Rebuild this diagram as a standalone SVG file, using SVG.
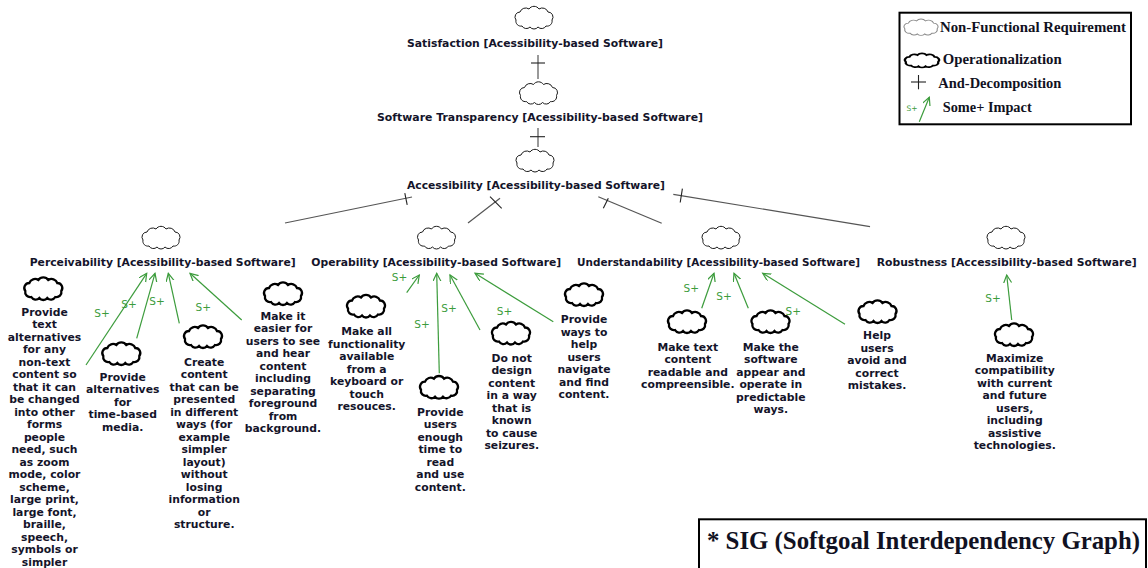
<svg xmlns="http://www.w3.org/2000/svg" xmlns:xlink="http://www.w3.org/1999/xlink" width="1148" height="568" viewBox="0 0 1148 568">
<style>
.bg{fill:#ffffff}
.lbl{font-family:"DejaVu Sans",Verdana,sans-serif;font-weight:bold;font-size:10.8px;fill:#14142a;text-anchor:middle}
.sp{font-family:"DejaVu Sans",Verdana,sans-serif;font-size:10.5px;fill:#3c9c3c;text-anchor:middle}
.nfr{fill:#ffffff;stroke:#1a1a1a;stroke-width:1}
.op{fill:#ffffff;stroke:#000000;stroke-width:2.3}
.and{stroke:#555555;stroke-width:1.2;fill:none}
.bar{stroke:#222222;stroke-width:1.1;fill:none}
.imp{stroke:#3c9c3c;stroke-width:1.2;fill:none;marker-end:url(#ah)}
.leg{font-family:"Liberation Serif","Times New Roman",serif;font-weight:bold;font-size:14px;fill:#111122}
.box{fill:none;stroke:#000000;stroke-width:2}
</style>
<defs>
<path id="cloud" d="M-12,9 a5,5 0 0 1 -6,-6 a5,5 0 0 1 4,-8 a6,6 0 0 1 9,-3 a6,6 0 0 1 10,0 a6,6 0 0 1 9,3 a5,5 0 0 1 4,8 a5,5 0 0 1 -6,6 a5,5 0 0 1 -8,1 a5,5 0 0 1 -8,0 a5,5 0 0 1 -8,-1 z"/>
<marker id="ah" markerUnits="userSpaceOnUse" markerWidth="12" markerHeight="12" refX="8" refY="4" orient="auto" viewBox="0 0 12 12">
<path d="M0,0 L8,4 L0,8" fill="none" stroke="#3c9c3c" stroke-width="1.2"/>
</marker>
</defs>
<rect class="bg" x="0" y="0" width="1148" height="568"/>

<g id="connectors">
<line class="and" x1="538" y1="55" x2="538" y2="79"/>
<line class="bar" x1="531" y1="63" x2="545" y2="63"/>
<line class="and" x1="538" y1="128" x2="538" y2="147"/>
<line class="bar" x1="530" y1="136.7" x2="545" y2="136.7"/>
<line class="and" x1="285" y1="223" x2="412" y2="197"/>
<line class="bar" x1="404.8" y1="193.1" x2="407.2" y2="204.9"/>
<line class="and" x1="468" y1="223" x2="500" y2="198.3"/>
<line class="bar" x1="490" y1="196.7" x2="501.7" y2="208.3"/>
<line class="and" x1="598.3" y1="196.7" x2="661.7" y2="223.3"/>
<line class="bar" x1="603.3" y1="208.3" x2="608.3" y2="198.3"/>
<line class="and" x1="673.3" y1="194.3" x2="870" y2="226.7"/>
<line class="bar" x1="682.4" y1="188.7" x2="680.2" y2="202.5"/>

<line class="imp" x1="86" y1="365" x2="146.7" y2="273.3"/>
<line class="imp" x1="136.7" y1="338.3" x2="155" y2="273.3"/>
<line class="imp" x1="179.3" y1="323.3" x2="168.3" y2="273.3"/>
<line class="imp" x1="241.7" y1="320" x2="190" y2="273.3"/>
<line class="imp" x1="406.7" y1="292.7" x2="419.3" y2="275"/>
<line class="imp" x1="439.3" y1="373.3" x2="436.7" y2="273.3"/>
<line class="imp" x1="480" y1="330" x2="450" y2="275"/>
<line class="imp" x1="553.3" y1="321.7" x2="475" y2="273.3"/>
<line class="imp" x1="701.7" y1="308.3" x2="714" y2="273.3"/>
<line class="imp" x1="748.3" y1="308.3" x2="734" y2="273.3"/>
<line class="imp" x1="845" y1="324.3" x2="762.7" y2="273.3"/>
<line class="imp" x1="1011.7" y1="320" x2="1006.7" y2="275"/>

<text class="sp" x="102" y="316.8">S+</text>
<text class="sp" x="129" y="308.3">S+</text>
<text class="sp" x="157" y="305.3">S+</text>
<text class="sp" x="203.3" y="311.1">S+</text>
<text class="sp" x="399.5" y="281.1">S+</text>
<text class="sp" x="422" y="327.8">S+</text>
<text class="sp" x="449" y="312.1">S+</text>
<text class="sp" x="504.5" y="314.6">S+</text>
<text class="sp" x="691.3" y="292.1">S+</text>
<text class="sp" x="724" y="299.8">S+</text>
<text class="sp" x="793.3" y="314.8">S+</text>
<text class="sp" x="993" y="301.6">S+</text>
</g>

<g id="satisfaction">
<use xlink:href="#cloud" class="nfr" transform="translate(534,17)"/>
<text class="lbl" x="535" y="47" textLength="256" lengthAdjust="spacingAndGlyphs">Satisfaction [Acessibility-based Software]</text>
</g>
<g id="transparency">
<use xlink:href="#cloud" class="nfr" transform="translate(538.5,92.5)"/>
<text class="lbl" x="540" y="120.5" textLength="326" lengthAdjust="spacingAndGlyphs">Software Transparency [Acessibility-based Software]</text>
</g>
<g id="accessibility">
<use xlink:href="#cloud" class="nfr" transform="translate(535,160)"/>
<text class="lbl" x="536" y="189" textLength="258" lengthAdjust="spacingAndGlyphs">Accessibility [Acessibility-based Software]</text>
</g>
<g id="perceivability">
<use xlink:href="#cloud" class="nfr" transform="translate(161,237)"/>
<text class="lbl" x="162.7" y="266" textLength="266" lengthAdjust="spacingAndGlyphs">Perceivability [Acessibility-based Software]</text>
</g>
<g id="operability">
<use xlink:href="#cloud" class="nfr" transform="translate(436.5,237)"/>
<text class="lbl" x="436.3" y="266" textLength="250" lengthAdjust="spacingAndGlyphs">Operability [Acessibility-based Software]</text>
</g>
<g id="understandability">
<use xlink:href="#cloud" class="nfr" transform="translate(721,237)"/>
<text class="lbl" x="718.5" y="266" textLength="283" lengthAdjust="spacingAndGlyphs">Understandability [Acessibility-based Software]</text>
</g>
<g id="robustness">
<use xlink:href="#cloud" class="nfr" transform="translate(1006,237)"/>
<text class="lbl" x="1006.7" y="266" textLength="260" lengthAdjust="spacingAndGlyphs">Robustness [Accessibility-based Software]</text>
</g>

<g id="op-text-alternatives">
<use xlink:href="#cloud" class="op" transform="translate(43.3,288)"/>
<text class="lbl" y="315.7"><tspan x="44.5">Provide</tspan><tspan x="44.5" dy="12.5">text</tspan><tspan x="44.5" dy="12.5">alternatives</tspan><tspan x="44.5" dy="12.5">for any</tspan><tspan x="44.5" dy="12.5">non-text</tspan><tspan x="44.5" dy="12.5">content so</tspan><tspan x="44.5" dy="12.5">that it can</tspan><tspan x="44.5" dy="12.5">be changed</tspan><tspan x="44.5" dy="12.5">into other</tspan><tspan x="44.5" dy="12.5">forms</tspan><tspan x="44.5" dy="12.5">people</tspan><tspan x="44.5" dy="12.5">need, such</tspan><tspan x="44.5" dy="12.5">as zoom</tspan><tspan x="44.5" dy="12.5">mode, color</tspan><tspan x="44.5" dy="12.5">scheme,</tspan><tspan x="44.5" dy="12.5">large print,</tspan><tspan x="44.5" dy="12.5">large font,</tspan><tspan x="44.5" dy="12.5">braille,</tspan><tspan x="44.5" dy="12.5">speech,</tspan><tspan x="44.5" dy="12.5">symbols or</tspan><tspan x="44.5" dy="12.5">simpler</tspan></text>
</g>
<g id="op-time-based">
<use xlink:href="#cloud" class="op" transform="translate(121.3,353)"/>
<text class="lbl" y="380.7"><tspan x="122.7">Provide</tspan><tspan x="122.7" dy="12.5">alternatives</tspan><tspan x="122.7" dy="12.5">for</tspan><tspan x="122.7" dy="12.5">time-based</tspan><tspan x="122.7" dy="12.5">media.</tspan></text>
</g>
<g id="op-adaptable">
<use xlink:href="#cloud" class="op" transform="translate(203,336)"/>
<text class="lbl" y="365.7"><tspan x="204.2">Create</tspan><tspan x="204.2" dy="12.5">content</tspan><tspan x="204.2" dy="12.5">that can be</tspan><tspan x="204.2" dy="12.5">presented</tspan><tspan x="204.2" dy="12.5">in different</tspan><tspan x="204.2" dy="12.5">ways (for</tspan><tspan x="204.2" dy="12.5">example</tspan><tspan x="204.2" dy="12.5">simpler</tspan><tspan x="204.2" dy="12.5">layout)</tspan><tspan x="204.2" dy="12.5">without</tspan><tspan x="204.2" dy="12.5">losing</tspan><tspan x="204.2" dy="12.5">information</tspan><tspan x="204.2" dy="12.5">or</tspan><tspan x="204.2" dy="12.5">structure.</tspan></text>
</g>
<g id="op-distinguishable">
<use xlink:href="#cloud" class="op" transform="translate(283,293)"/>
<text class="lbl" y="319.7"><tspan x="283">Make it</tspan><tspan x="283" dy="12.5">easier for</tspan><tspan x="283" dy="12.5">users to see</tspan><tspan x="283" dy="12.5">and hear</tspan><tspan x="283" dy="12.5">content</tspan><tspan x="283" dy="12.5">including</tspan><tspan x="283" dy="12.5">separating</tspan><tspan x="283" dy="12.5">foreground</tspan><tspan x="283" dy="12.5">from</tspan><tspan x="283" dy="12.5">background.</tspan></text>
</g>
<g id="op-keyboard">
<use xlink:href="#cloud" class="op" transform="translate(366,305.5)"/>
<text class="lbl" y="335"><tspan x="366.7">Make all</tspan><tspan x="366.7" dy="12.5">functionality</tspan><tspan x="366.7" dy="12.5">available</tspan><tspan x="366.7" dy="12.5">from a</tspan><tspan x="366.7" dy="12.5">keyboard or</tspan><tspan x="366.7" dy="12.5">touch</tspan><tspan x="366.7" dy="12.5">resouces.</tspan></text>
</g>
<g id="op-enough-time">
<use xlink:href="#cloud" class="op" transform="translate(439,386.7)"/>
<text class="lbl" y="415.7"><tspan x="440.3">Provide</tspan><tspan x="440.3" dy="12.5">users</tspan><tspan x="440.3" dy="12.5">enough</tspan><tspan x="440.3" dy="12.5">time to</tspan><tspan x="440.3" dy="12.5">read</tspan><tspan x="440.3" dy="12.5">and use</tspan><tspan x="440.3" dy="12.5">content.</tspan></text>
</g>
<g id="op-seizures">
<use xlink:href="#cloud" class="op" transform="translate(511,332.5)"/>
<text class="lbl" y="361.7"><tspan x="511.7">Do not</tspan><tspan x="511.7" dy="12.5">design</tspan><tspan x="511.7" dy="12.5">content</tspan><tspan x="511.7" dy="12.5">in a way</tspan><tspan x="511.7" dy="12.5">that is</tspan><tspan x="511.7" dy="12.5">known</tspan><tspan x="511.7" dy="12.5">to cause</tspan><tspan x="511.7" dy="12.5">seizures.</tspan></text>
</g>
<g id="op-navigable">
<use xlink:href="#cloud" class="op" transform="translate(584,294)"/>
<text class="lbl" y="323.3"><tspan x="584">Provide</tspan><tspan x="584" dy="12.5">ways to</tspan><tspan x="584" dy="12.5">help</tspan><tspan x="584" dy="12.5">users</tspan><tspan x="584" dy="12.5">navigate</tspan><tspan x="584" dy="12.5">and find</tspan><tspan x="584" dy="12.5">content.</tspan></text>
</g>
<g id="op-readable">
<use xlink:href="#cloud" class="op" transform="translate(687,321)"/>
<text class="lbl" y="350.7"><tspan x="687.8">Make text</tspan><tspan x="687.8" dy="12.5">content</tspan><tspan x="687.8" dy="12.5">readable and</tspan><tspan x="687.8" dy="12.5">compreensible.</tspan></text>
</g>
<g id="op-predictable">
<use xlink:href="#cloud" class="op" transform="translate(770.5,321)"/>
<text class="lbl" y="350.7"><tspan x="770.8">Make the</tspan><tspan x="770.8" dy="12.5">software</tspan><tspan x="770.8" dy="12.5">appear and</tspan><tspan x="770.8" dy="12.5">operate in</tspan><tspan x="770.8" dy="12.5">predictable</tspan><tspan x="770.8" dy="12.5">ways.</tspan></text>
</g>
<g id="op-input-assistance">
<use xlink:href="#cloud" class="op" transform="translate(877.5,311)"/>
<text class="lbl" y="339"><tspan x="877">Help</tspan><tspan x="877" dy="12.5">users</tspan><tspan x="877" dy="12.5">avoid and</tspan><tspan x="877" dy="12.5">correct</tspan><tspan x="877" dy="12.5">mistakes.</tspan></text>
</g>
<g id="op-compatible">
<use xlink:href="#cloud" class="op" transform="translate(1014,334)"/>
<text class="lbl" y="361.7"><tspan x="1014.7">Maximize</tspan><tspan x="1014.7" dy="12.5">compatibility</tspan><tspan x="1014.7" dy="12.5">with current</tspan><tspan x="1014.7" dy="12.5">and future</tspan><tspan x="1014.7" dy="12.5">users,</tspan><tspan x="1014.7" dy="12.5">including</tspan><tspan x="1014.7" dy="12.5">assistive</tspan><tspan x="1014.7" dy="12.5">technologies.</tspan></text>
</g>

<g id="legend">
<rect class="box" x="899.5" y="12.7" width="231.5" height="111.6"/>
<use xlink:href="#cloud" fill="#ffffff" stroke="#8a8a8a" stroke-width="1.2" transform="translate(921,26.7) scale(0.9,0.72)"/>
<text class="leg" x="940" y="31.7" textLength="186" lengthAdjust="spacingAndGlyphs">Non-Functional Requirement</text>
<use xlink:href="#cloud" fill="#ffffff" stroke="#000000" stroke-width="2.6" transform="translate(922,60) scale(0.9,0.62)"/>
<text class="leg" x="942.7" y="63.5" textLength="119" lengthAdjust="spacingAndGlyphs">Operationalization</text>
<line class="bar" x1="918.5" y1="75" x2="918.5" y2="89.3"/>
<line class="bar" x1="911" y1="82" x2="926" y2="82"/>
<text class="leg" x="938.3" y="87.5" textLength="123" lengthAdjust="spacingAndGlyphs">And-Decomposition</text>
<text x="912" y="110.8" font-family="DejaVu Sans, sans-serif" font-size="7.5px" fill="#3c9c3c" text-anchor="middle">S+</text>
<line class="imp" x1="919.3" y1="121.7" x2="929.3" y2="97.3"/>
<text class="leg" x="942.7" y="111.7" textLength="89" lengthAdjust="spacingAndGlyphs">Some+ Impact</text>
</g>

<g id="sig-title">
<rect class="box" x="699" y="519.3" width="447" height="60"/>
<text x="707" y="549" font-family="Liberation Serif, Times New Roman, serif" font-weight="bold" font-size="25px" fill="#111122" textLength="433" lengthAdjust="spacingAndGlyphs">* SIG (Softgoal Interdependency Graph)</text>
</g>
</svg>
